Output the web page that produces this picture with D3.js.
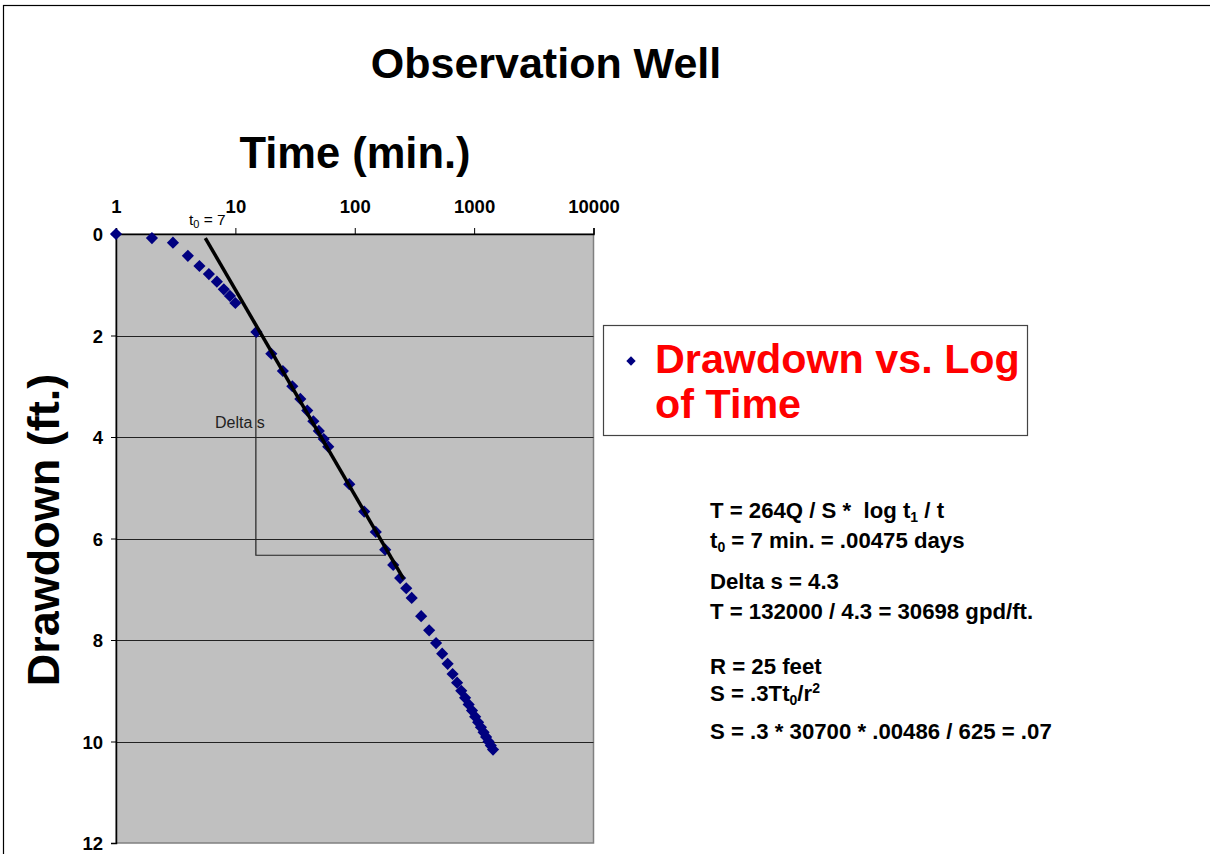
<!DOCTYPE html>
<html>
<head>
<meta charset="utf-8">
<script src="https://cdn.jsdelivr.net/npm/d3@7"></script>
<style>
  body { margin: 0; background: #fff; }
  svg { display: block; font-family: Arial, "Liberation Sans", sans-serif; }
  text { white-space: pre; }
</style>
</head>
<body>
<svg id="chart" width="1210" height="854"></svg>
<script>
// observation well data
const timeMin = [1, 2, 3, 4, 5, 6, 7, 8, 9, 10,
  15, 20, 25, 30, 35, 40, 45, 50, 55, 60,
  90, 120, 150, 180, 210, 240, 270, 300,
  360, 420, 480, 540, 600,
  660, 720, 780, 840, 900, 960, 1020, 1080, 1140, 1200, 1260, 1320, 1380, 1440]
const drawdown = [0, 0.08, 0.17, 0.43, 0.63, 0.79, 0.94, 1.09, 1.22, 1.36,
  1.93, 2.36, 2.70, 3.0, 3.25, 3.48, 3.69, 3.88, 4.04, 4.19,
  4.93, 5.47, 5.87, 6.22, 6.52, 6.78, 6.98, 7.17,
  7.53, 7.81, 8.06, 8.27, 8.47,
  8.67, 8.84, 9.0, 9.14, 9.27, 9.39, 9.51, 9.62, 9.72, 9.82, 9.91, 10.0, 10.08, 10.16]

const xTicks = [1, 10, 100, 1000, 10000]
const yTicks = [0, 2, 4, 6, 8, 10, 12]

// straight line fitted by hand, and the delta s bracket
const fitTime = [5.6, 257]
const fitDraw = [0.08, 6.8]
const bracketTime = [14.85, 14.85, 181.5]
const bracketDraw = [1.93, 6.33, 6.33]

// notes on the right: [text, 'sub' | 'sup' | undefined]
const notes = [
  [["T = 264Q / S *  log t"], ["1", "sub"], [" / t"]],
  [["t"], ["0", "sub"], [" = 7 min. = .00475 days"]],
  [["Delta s = 4.3"]],
  [["T = 132000 / 4.3 = 30698 gpd/ft."]],
  [["R = 25 feet"]],
  [["S = .3Tt"], ["0", "sub"], ["/r"], ["2", "sup"]],
  [["S = .3 * 30700 * .00486 / 625 = .07"]]
]
const noteY = [518, 548, 589, 619, 674, 701, 739]

const data = timeMin.map((t, i) => ({t: t, s: drawdown[i]}))

const svg = d3.select("#chart")

// outer chart frame
svg.append("rect")
  .attr("x", 3.5).attr("y", 5.5)
  .attr("width", 1300).attr("height", 900)
  .attr("fill", "#fff").attr("stroke", "#000").attr("stroke-width", 1.2)

const plotL = 116, plotR = 593.5, plotT = 234, plotB = 843

const x = d3.scaleLog().domain([1, 10000]).range([plotL, plotR])
const y = d3.scaleLinear().domain([0, 12]).range([plotT, plotB])

// plot area
svg.append("rect")
  .attr("x", plotL).attr("y", plotT)
  .attr("width", plotR - plotL).attr("height", plotB - plotT)
  .attr("fill", "#c0c0c0").attr("stroke", "#808080").attr("stroke-width", 1.5)

// gridlines
svg.append("g").selectAll("line")
  .data(yTicks.filter(d => d > 0 && d < 12))
  .enter().append("line")
  .attr("x1", plotL).attr("x2", plotR)
  .attr("y1", d => Math.round(y(d)) + 0.5).attr("y2", d => Math.round(y(d)) + 0.5)
  .attr("stroke", "#222").attr("stroke-width", 1)

// axes
const xAxis = svg.append("g")
  .attr("transform", `translate(0,${plotT})`)
  .call(d3.axisTop(x).tickValues(xTicks).tickFormat(d3.format("d")).tickSizeOuter(0).tickSize(6).tickPadding(15))
const yAxis = svg.append("g")
  .attr("transform", `translate(${plotL},0)`)
  .call(d3.axisLeft(y).tickValues(yTicks).tickSizeOuter(0).tickSize(5).tickPadding(8))

for (const ax of [xAxis, yAxis]) {
  ax.select(".domain").attr("stroke", "#000").attr("stroke-width", 1.5)
  ax.selectAll(".tick line").attr("stroke", "#000")
  ax.selectAll(".tick text")
    .attr("font-family", "Arial, 'Liberation Sans', sans-serif")
    .attr("font-size", 18.5).attr("font-weight", "bold").attr("fill", "#000")
}
yAxis.selectAll(".tick text").attr("dy", "0.36em")

// delta s bracket
svg.append("path")
  .datum(bracketTime.map((t, i) => [t, bracketDraw[i]]))
  .attr("d", d3.line().x(d => x(d[0])).y(d => y(d[1])))
  .attr("fill", "none").attr("stroke", "#222").attr("stroke-width", 1.2)

svg.append("text")
  .attr("x", 215).attr("y", 428)
  .attr("font-size", 16).attr("fill", "#222")
  .text("Delta s")

// points
const diamond = d3.symbol().type(d3.symbolSquare).size(74)
svg.append("g").selectAll("path")
  .data(data)
  .enter().append("path")
  .attr("d", diamond)
  .attr("transform", d => `translate(${x(d.t)},${y(d.s)}) rotate(45)`)
  .attr("fill", "#000080")

// fitted line
svg.append("path")
  .datum(fitTime.map((t, i) => [t, fitDraw[i]]))
  .attr("d", d3.line().x(d => x(d[0])).y(d => y(d[1])))
  .attr("stroke", "#000").attr("stroke-width", 3.5).attr("fill", "none")

// t0 label
const t0 = svg.append("text").attr("x", 189).attr("y", 225).attr("font-size", 15.5)
t0.append("tspan").text("t")
t0.append("tspan").attr("font-size", 11).attr("dy", 3).text("0")
t0.append("tspan").attr("dy", -3).text(" = 7")

// titles
svg.append("text")
  .attr("x", 546).attr("y", 78).attr("text-anchor", "middle")
  .attr("font-size", 43).attr("font-weight", "bold")
  .text("Observation Well")

svg.append("text")
  .attr("x", 355).attr("y", 168).attr("text-anchor", "middle")
  .attr("font-size", 43.5).attr("font-weight", "bold")
  .text("Time (min.)")

svg.append("text")
  .attr("transform", "translate(59,530) rotate(-90)")
  .attr("text-anchor", "middle")
  .attr("font-size", 45).attr("font-weight", "bold")
  .text("Drawdown (ft.)")

// legend
const legend = svg.append("g")
legend.append("rect")
  .attr("x", 603.5).attr("y", 325.5).attr("width", 424).attr("height", 110)
  .attr("fill", "#fff").attr("stroke", "#444").attr("stroke-width", 1.2)
legend.append("path")
  .attr("d", d3.symbol().type(d3.symbolSquare).size(44))
  .attr("transform", "translate(631,361) rotate(45)")
  .attr("fill", "#000080")
legend.append("text")
  .attr("x", 655).attr("y", 373)
  .attr("font-size", 41.3).attr("font-weight", "bold").attr("fill", "#ff0000")
  .text("Drawdown vs. Log")
legend.append("text")
  .attr("x", 655).attr("y", 418)
  .attr("font-size", 41.3).attr("font-weight", "bold").attr("fill", "#ff0000")
  .text("of Time")

// notes
const noteG = svg.append("g")
notes.forEach((line, i) => {
  const t = noteG.append("text")
    .attr("x", 710).attr("y", noteY[i])
    .attr("font-size", 22.2).attr("font-weight", "bold")
  let shift = 0
  line.forEach(seg => {
    const want = seg[1] === "sub" ? 4 : seg[1] === "sup" ? -8 : 0
    const sp = t.append("tspan").attr("dy", want - shift).text(seg[0])
    if (seg[1]) sp.attr("font-size", 14)
    shift = want
  })
})
</script>
</body>
</html>
